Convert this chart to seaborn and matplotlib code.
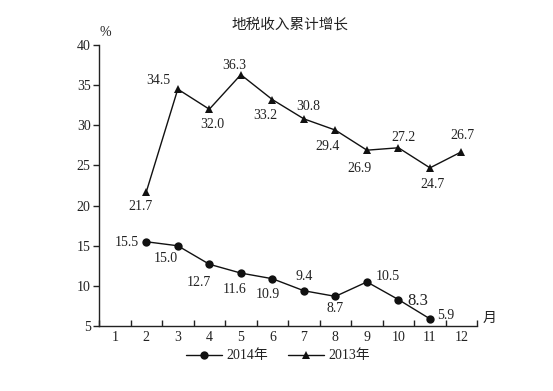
import numpy as np
import pandas as pd
import matplotlib
matplotlib.use('Agg')
import matplotlib.pyplot as plt
import seaborn as sns

# Data
months_2014 = [2, 3, 4, 5, 6, 7, 8, 9, 10, 11]
growth_2014 = [15.5, 15.0, 12.7, 11.6, 10.9, 9.4, 8.7, 10.5, 8.3, 5.9]
months_2013 = [2, 3, 4, 5, 6, 7, 8, 9, 10, 11, 12]
growth_2013 = [21.7, 34.5, 32.0, 36.3, 33.2, 30.8, 29.4, 26.9, 27.2, 24.7, 26.7]
series_names = ['2014年', '2013年']
month_ticks = list(range(1, 13))
y_ticks = [5, 10, 15, 20, 25, 30, 35, 40]

# label offsets in pixels (dx, dy), dy positive = up
offsets_2014 = [(-19, -1), (-12, -13), (-10, -18), (-6, -16), (-4, -16),
                (0, 14), (0, -12), (21, 5), (19, -1), (16, 3)]
offsets_2013 = [(-6, -15), (-19, 9), (3, -15), (-7, 9), (-7, -16),
                (4, 12), (-8, -16), (-7, -18), (5, 10), (3, -17), (1, 16)]

df = pd.concat([
    pd.DataFrame({'month': months_2014, 'growth': growth_2014, 'year': series_names[0]}),
    pd.DataFrame({'month': months_2013, 'growth': growth_2013, 'year': series_names[1]}),
])

sns.set_style('ticks')
plt.rcParams['font.family'] = ['Liberation Serif', 'Noto Sans CJK SC']
plt.rcParams['text.color'] = '#222222'
plt.rcParams['axes.edgecolor'] = '#222222'
plt.rcParams['xtick.color'] = '#222222'
plt.rcParams['ytick.color'] = '#222222'

fig = plt.figure(figsize=(5.53, 3.91), dpi=100)
ax = fig.add_axes([0.179, 0.166, 0.684, 0.719])

sns.lineplot(data=df, x='month', y='growth', hue='year', style='year',
             hue_order=series_names, style_order=series_names,
             palette=['#111111', '#111111'], markers={'2014年': 'o', '2013年': '^'},
             dashes=False, markersize=6, markeredgewidth=0, linewidth=1.0,
             ax=ax)

fs = 10
for m, v, (dx, dy) in zip(months_2014, growth_2014, offsets_2014):
    size = 12 if v == 8.3 else fs
    ax.annotate(f'{v:.1f}', (m, v), xytext=(dx, dy), textcoords='offset pixels',
                ha='center', va='center', fontsize=size)
for m, v, (dx, dy) in zip(months_2013, growth_2013, offsets_2013):
    ax.annotate(f'{v:.1f}', (m, v), xytext=(dx, dy), textcoords='offset pixels',
                ha='center', va='center', fontsize=fs)

ax.set_xlim(0.5, 12.5)
ax.set_ylim(5, 40)
ax.set_xticks(month_ticks)
ax.set_xticklabels([str(m) for m in month_ticks], fontsize=10)
ax.set_xticks(np.arange(0.5, 13, 1), minor=True)
ax.tick_params(axis='x', which='major', length=0, pad=3.5)
ax.tick_params(axis='x', which='minor', direction='in', length=4, width=1)
ax.set_yticks(y_ticks)
ax.set_yticklabels([str(t) for t in y_ticks], fontsize=10)
ax.tick_params(axis='y', direction='out', length=4, width=1, pad=2)
ax.set_xlabel('')
ax.set_ylabel('')
sns.despine(ax=ax)
for s in ['left', 'bottom']:
    ax.spines[s].set_linewidth(1.0)

fig.text(290 / 553, 1 - 25 / 391, '地税收入累计增长', ha='center', va='center', fontsize=10.5)
fig.text(105 / 553, 1 - 33 / 391, '%', ha='center', va='center', fontsize=10)
fig.text(490 / 553, 1 - 318 / 391, '月', ha='center', va='center', fontsize=10)

handles, labels = ax.get_legend_handles_labels()
ax.legend(handles, labels, loc='center', bbox_to_anchor=(278 / 553, 1 - 356 / 391),
          bbox_transform=fig.transFigure, ncol=2, frameon=False, fontsize=10,
          handlelength=2.6, handletextpad=0.3, columnspacing=1.4)

fig.savefig('out.png', dpi=100)
